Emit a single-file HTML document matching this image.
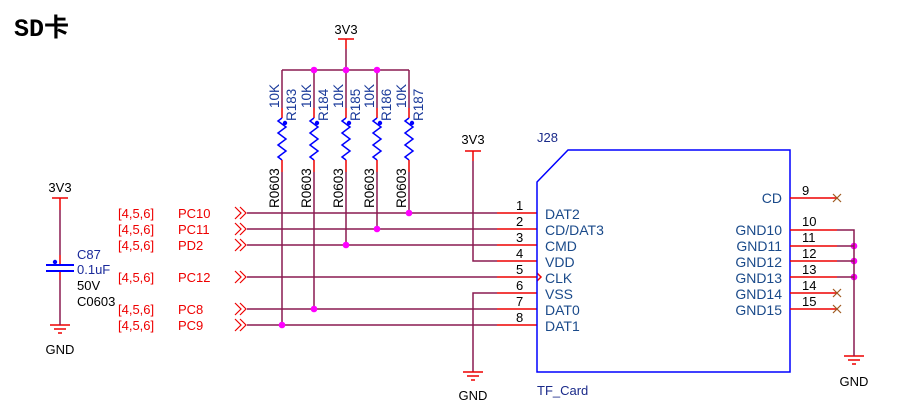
<!DOCTYPE html>
<html><head><meta charset="utf-8"><style>
html,body{margin:0;padding:0;background:#fff;}
svg{display:block;font-family:"Liberation Sans","Noto Sans CJK SC",sans-serif;}
</style></head><body>
<svg width="900" height="413" viewBox="0 0 900 413" xmlns="http://www.w3.org/2000/svg">
<text x="14" y="36" font-size="25" font-weight="bold" font-family="Liberation Mono, Noto Sans CJK SC, monospace">SD卡</text>

<text x="346" y="34" font-size="13" text-anchor="middle">3V3</text>
<line x1="338" y1="39" x2="354" y2="39" stroke="#e00" stroke-width="1.5"/>
<line x1="346" y1="39" x2="346" y2="49" stroke="#e00" stroke-width="1.5"/>
<g stroke="#8a1a50" stroke-width="1.5" fill="none">
<line x1="346" y1="49" x2="346" y2="70"/>
<line x1="282" y1="70" x2="409" y2="70"/>
</g>
<g stroke-width="1.5" fill="none">
<g transform="translate(282,0)">
<line x1="0" y1="70" x2="0" y2="108" stroke="#8a1a50"/><line x1="0" y1="108" x2="0" y2="118" stroke="#e00"/>
<polyline points="0,118 -4,121 4,127 -4,133 4,139 -4,145 4,151 -4,157 0,160" stroke="#00f"/>
<line x1="0" y1="160" x2="0" y2="172" stroke="#e00"/><line x1="0" y1="172" x2="0" y2="325" stroke="#8a1a50"/>
</g>
<g transform="translate(314,0)">
<line x1="0" y1="70" x2="0" y2="108" stroke="#8a1a50"/><line x1="0" y1="108" x2="0" y2="118" stroke="#e00"/>
<polyline points="0,118 -4,121 4,127 -4,133 4,139 -4,145 4,151 -4,157 0,160" stroke="#00f"/>
<line x1="0" y1="160" x2="0" y2="172" stroke="#e00"/><line x1="0" y1="172" x2="0" y2="309" stroke="#8a1a50"/>
</g>
<g transform="translate(346,0)">
<line x1="0" y1="70" x2="0" y2="108" stroke="#8a1a50"/><line x1="0" y1="108" x2="0" y2="118" stroke="#e00"/>
<polyline points="0,118 -4,121 4,127 -4,133 4,139 -4,145 4,151 -4,157 0,160" stroke="#00f"/>
<line x1="0" y1="160" x2="0" y2="172" stroke="#e00"/><line x1="0" y1="172" x2="0" y2="245" stroke="#8a1a50"/>
</g>
<g transform="translate(377,0)">
<line x1="0" y1="70" x2="0" y2="108" stroke="#8a1a50"/><line x1="0" y1="108" x2="0" y2="118" stroke="#e00"/>
<polyline points="0,118 -4,121 4,127 -4,133 4,139 -4,145 4,151 -4,157 0,160" stroke="#00f"/>
<line x1="0" y1="160" x2="0" y2="172" stroke="#e00"/><line x1="0" y1="172" x2="0" y2="229" stroke="#8a1a50"/>
</g>
<g transform="translate(409,0)">
<line x1="0" y1="70" x2="0" y2="108" stroke="#8a1a50"/><line x1="0" y1="108" x2="0" y2="118" stroke="#e00"/>
<polyline points="0,118 -4,121 4,127 -4,133 4,139 -4,145 4,151 -4,157 0,160" stroke="#00f"/>
<line x1="0" y1="160" x2="0" y2="172" stroke="#e00"/><line x1="0" y1="172" x2="0" y2="213" stroke="#8a1a50"/>
</g>
</g>
<g fill="#00f">
<circle cx="285" cy="123" r="2.2"/><circle cx="317" cy="123" r="2.2"/><circle cx="349" cy="123" r="2.2"/><circle cx="380" cy="123" r="2.2"/><circle cx="412" cy="123" r="2.2"/>
</g>
<g font-size="13.5">
<g fill="#1a3a9a">
<text transform="translate(279,108) rotate(-90)">10K</text>
<text transform="translate(311,108) rotate(-90)">10K</text>
<text transform="translate(343,108) rotate(-90)">10K</text>
<text transform="translate(374,108) rotate(-90)">10K</text>
<text transform="translate(406,108) rotate(-90)">10K</text>
<text transform="translate(296,121) rotate(-90)">R183</text>
<text transform="translate(328,121) rotate(-90)">R184</text>
<text transform="translate(360,121) rotate(-90)">R185</text>
<text transform="translate(391,121) rotate(-90)">R186</text>
<text transform="translate(423,121) rotate(-90)">R187</text>
</g>
<g fill="#000">
<text transform="translate(279,208) rotate(-90)">R0603</text>
<text transform="translate(311,208) rotate(-90)">R0603</text>
<text transform="translate(343,208) rotate(-90)">R0603</text>
<text transform="translate(374,208) rotate(-90)">R0603</text>
<text transform="translate(406,208) rotate(-90)">R0603</text>
</g>
</g>

<g stroke="#8a1a50" stroke-width="1.5" fill="none">
<line x1="247" y1="213" x2="497" y2="213"/>
<line x1="247" y1="229" x2="497" y2="229"/>
<line x1="247" y1="245" x2="497" y2="245"/>
<line x1="247" y1="277" x2="497" y2="277"/>
<line x1="247" y1="309" x2="497" y2="309"/>
<line x1="247" y1="325" x2="497" y2="325"/>
<polyline points="473,161 473,261 497,261"/>
<polyline points="497,293 473,293 473,372"/>
</g>
<g stroke="#e00" stroke-width="1.5" fill="none">
<line x1="497" y1="213" x2="537" y2="213"/>
<line x1="497" y1="229" x2="537" y2="229"/>
<line x1="497" y1="245" x2="537" y2="245"/>
<line x1="497" y1="261" x2="537" y2="261"/>
<line x1="497" y1="277" x2="537" y2="277"/>
<line x1="497" y1="293" x2="537" y2="293"/>
<line x1="497" y1="309" x2="537" y2="309"/>
<line x1="497" y1="325" x2="537" y2="325"/>
<polyline points="537,273 541,277 537,281"/>
<line x1="465" y1="151" x2="481" y2="151"/>
<line x1="473" y1="151" x2="473" y2="161"/>
<line x1="463" y1="372" x2="483" y2="372"/>
<line x1="467" y1="376" x2="479" y2="376"/>
<line x1="471" y1="380" x2="475" y2="380"/>
<g stroke-width="1.2">
<polyline points="235,207 241,213 235,219"/><polyline points="240,207 246,213 240,219"/>
<polyline points="235,223 241,229 235,235"/><polyline points="240,223 246,229 240,235"/>
<polyline points="235,239 241,245 235,251"/><polyline points="240,239 246,245 240,251"/>
<polyline points="235,271 241,277 235,283"/><polyline points="240,271 246,277 240,283"/>
<polyline points="235,303 241,309 235,315"/><polyline points="240,303 246,309 240,315"/>
<polyline points="235,319 241,325 235,331"/><polyline points="240,319 246,325 240,331"/>
</g>
</g>
<text x="473" y="144" font-size="13" text-anchor="middle">3V3</text>
<text x="473" y="400" font-size="13" text-anchor="middle">GND</text>
<g fill="#f0f">
<circle cx="314" cy="70" r="3.3"/><circle cx="346" cy="70" r="3.3"/><circle cx="377" cy="70" r="3.3"/>
<circle cx="409" cy="213" r="3.3"/><circle cx="377" cy="229" r="3.3"/><circle cx="346" cy="245" r="3.3"/>
<circle cx="314" cy="309" r="3.3"/><circle cx="282" cy="325" r="3.3"/>
<circle cx="854" cy="246" r="3.3"/><circle cx="854" cy="261" r="3.3"/><circle cx="854" cy="277" r="3.3"/>
</g>
<g font-size="13" fill="#e00">
<text x="118" y="218">[4,5,6]</text><text x="178" y="218">PC10</text>
<text x="118" y="234">[4,5,6]</text><text x="178" y="234">PC11</text>
<text x="118" y="250">[4,5,6]</text><text x="178" y="250">PD2</text>
<text x="118" y="282">[4,5,6]</text><text x="178" y="282">PC12</text>
<text x="118" y="314">[4,5,6]</text><text x="178" y="314">PC8</text>
<text x="118" y="330">[4,5,6]</text><text x="178" y="330">PC9</text>
</g>

<polygon points="537,182 568,150 790,150 790,372 537,372" fill="none" stroke="#00f" stroke-width="1.5"/>
<text x="537" y="142" font-size="13" fill="#1a2a8a">J28</text>
<text x="537" y="395" font-size="13" fill="#1a2a8a">TF_Card</text>
<g font-size="13" fill="#000">
<text x="516" y="210">1</text><text x="516" y="226">2</text><text x="516" y="242">3</text><text x="516" y="258">4</text>
<text x="516" y="274">5</text><text x="516" y="290">6</text><text x="516" y="306">7</text><text x="516" y="322">8</text>
<text x="802" y="195">9</text><text x="802" y="226">10</text><text x="802" y="242">11</text><text x="802" y="258">12</text>
<text x="802" y="274">13</text><text x="802" y="290">14</text><text x="802" y="306">15</text>
</g>
<g font-size="14" fill="#1a4a8a">
<text x="545" y="219">DAT2</text><text x="545" y="235">CD/DAT3</text><text x="545" y="251">CMD</text><text x="545" y="267">VDD</text>
<text x="545" y="283">CLK</text><text x="545" y="299">VSS</text><text x="545" y="315">DAT0</text><text x="545" y="331">DAT1</text>
<g text-anchor="end">
<text x="782" y="203">CD</text><text x="782" y="235">GND10</text><text x="782" y="251">GND11</text><text x="782" y="267">GND12</text>
<text x="782" y="283">GND13</text><text x="782" y="299">GND14</text><text x="782" y="315">GND15</text>
</g>
</g>
<g stroke="#e00" stroke-width="1.5" fill="none">
<line x1="790" y1="198" x2="837" y2="198"/>
<line x1="790" y1="230" x2="837" y2="230"/>
<line x1="790" y1="246" x2="837" y2="246"/>
<line x1="790" y1="261" x2="837" y2="261"/>
<line x1="790" y1="277" x2="837" y2="277"/>
<line x1="790" y1="293" x2="837" y2="293"/>
<line x1="790" y1="309" x2="837" y2="309"/>
<line x1="844" y1="356" x2="864" y2="356"/>
<line x1="848" y1="360" x2="860" y2="360"/>
<line x1="852" y1="364" x2="856" y2="364"/>
</g>
<g stroke="#8a1a50" stroke-width="1.5" fill="none">
<polyline points="837,230 854,230 854,356"/>
<line x1="837" y1="246" x2="854" y2="246"/><line x1="837" y1="261" x2="854" y2="261"/><line x1="837" y1="277" x2="854" y2="277"/>
</g>
<g stroke="#a05a20" stroke-width="1.2">
<line x1="833" y1="194" x2="841" y2="202"/><line x1="841" y1="194" x2="833" y2="202"/>
<line x1="833" y1="289" x2="841" y2="297"/><line x1="841" y1="289" x2="833" y2="297"/>
<line x1="833" y1="305" x2="841" y2="313"/><line x1="841" y1="305" x2="833" y2="313"/>
</g>
<text x="854" y="386" font-size="13" text-anchor="middle">GND</text>

<text x="60" y="192" font-size="13" text-anchor="middle">3V3</text>
<g stroke="#e00" stroke-width="1.5" fill="none">
<line x1="52" y1="198" x2="68" y2="198"/><line x1="60" y1="198" x2="60" y2="210"/>
<line x1="60" y1="255" x2="60" y2="265"/><line x1="60" y1="271" x2="60" y2="280"/>
<line x1="50" y1="325" x2="70" y2="325"/><line x1="54" y1="329" x2="66" y2="329"/><line x1="58" y1="333" x2="62" y2="333"/>
</g>
<g stroke="#8a1a50" stroke-width="1.5"><line x1="60" y1="210" x2="60" y2="255"/><line x1="60" y1="280" x2="60" y2="325"/></g>
<g stroke="#00f" stroke-width="2"><line x1="46" y1="265" x2="74" y2="265"/><line x1="46" y1="271" x2="74" y2="271"/></g>
<circle cx="55" cy="262" r="2.2" fill="#00f"/>
<text x="60" y="354" font-size="13" text-anchor="middle">GND</text>
<g font-size="13">
<text x="77" y="259" fill="#1a2a9a">C87</text>
<text x="77" y="274" fill="#1a2a9a">0.1uF</text>
<text x="77" y="290">50V</text>
<text x="77" y="306">C0603</text>
</g>
</svg>
</body></html>
